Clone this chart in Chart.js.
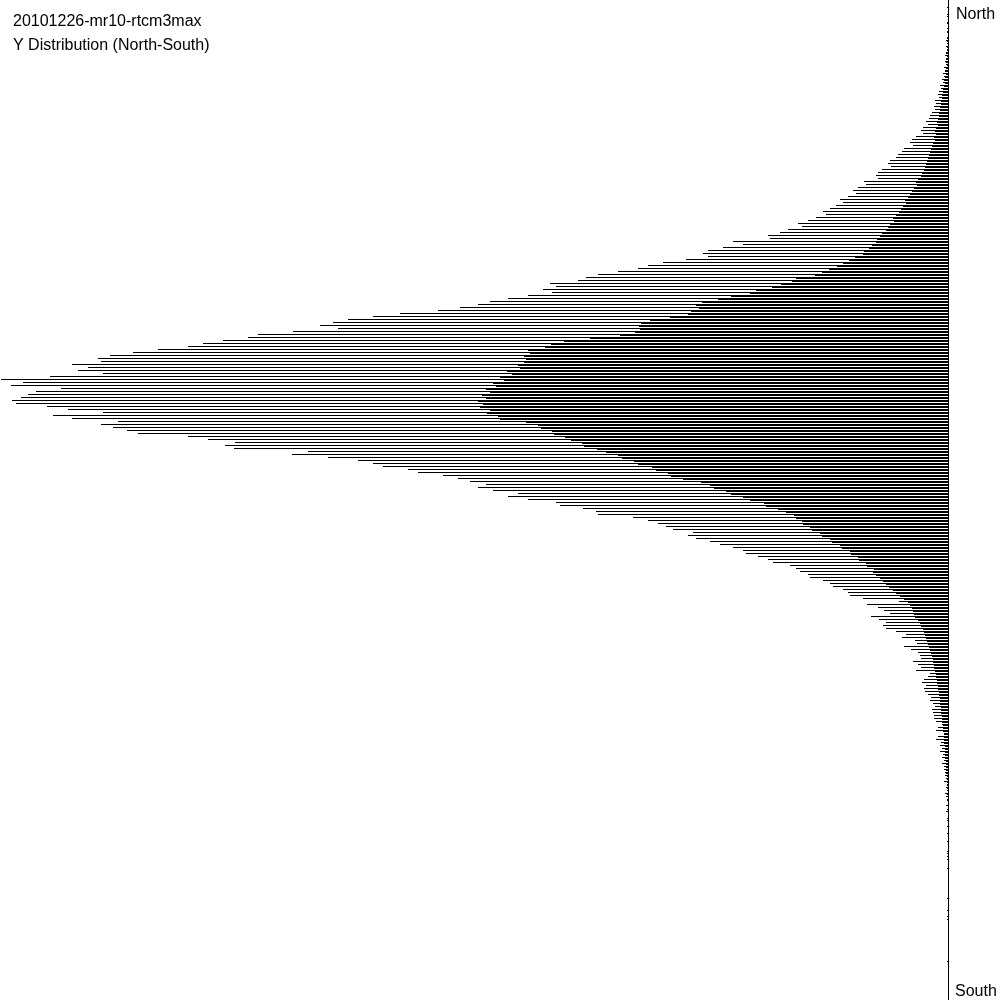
<!DOCTYPE html>
<html>
<head>
<meta charset="utf-8">
<script src="https://cdn.jsdelivr.net/npm/chart.js@4"></script>
<style>
  html, body { margin: 0; padding: 0; background: #fff; overflow: hidden; }
  canvas { display: block; }
</style>
</head>
<body>
<canvas id="distChart" width="1000" height="1000"></canvas>
<script>
// 文本
const chartTitle = '20101226-mr10-rtcm3max';
const chartSubtitle = 'Y Distribution (North-South)';
const northLabel = 'North';
const southLabel = 'South';

// 直方图：每格的第一行 (north -> south)
const upperRows = [
    0, 0, 1, 0, 0, 1, 0, 1, 0, 1,
    1, 0, 1, 2, 1, 2, 1, 2, 3, 2,
    3, 2, 4, 3, 5, 4, 6, 5, 8, 7,
    9, 10, 9, 13, 12, 14, 13, 16, 18, 19,
    22, 20, 25, 27, 25, 32, 36, 38, 35, 44,
    46, 50, 52, 58, 60, 57, 66, 70, 72, 70,
    84, 82, 90, 95, 92, 100, 108, 105, 112, 118,
    125, 122, 132, 140, 150, 146, 160, 168, 180, 178,
    215, 205, 225, 240, 245, 240, 262, 285, 300, 310,
    330, 350, 362, 370, 398, 392, 405, 396, 420, 440,
    458, 470, 488, 510, 548, 575, 600, 615, 628, 610,
    655, 690, 700, 725, 745, 760, 790, 815, 838, 850,
    847, 876, 860, 870, 845, 898, 947, 925, 937, 887,
    912, 920, 927, 936, 932, 901, 880, 845, 895, 876,
    830, 847, 835, 821, 810, 760, 740, 713, 723, 714,
    640, 656, 620, 590, 575, 565, 540, 530, 505, 490,
    478, 462, 470, 455, 430, 440, 420, 392, 388, 365,
    352, 350, 315, 300, 290, 282, 275, 255, 260, 252,
    238, 228, 215, 205, 202, 190, 180, 175, 158, 152,
    148, 140, 138, 125, 118, 115, 105, 100, 98, 85,
    49, 81, 70, 64, 58, 77, 69, 62, 65, 62,
    52, 42, 46, 33, 31, 44, 37, 30, 28, 27,
    35, 30, 27, 32, 18, 20, 24, 26, 22, 24,
    23, 20, 17, 18, 15, 13, 16, 15, 14, 14,
    12, 6, 10, 12, 4, 10, 12, 7, 8, 6,
    8, 5, 6, 4, 6, 4, 4, 3, 3, 2,
    4, 1, 2, 1, 3, 2, 1, 0, 2, 0,
    2, 0, 0, 1, 0, 1, 0, 0, 0, 0,
    1, 0, 0, 0, 1, 1, 1, 0, 0, 1,
    0, 0, 0, 0, 0, 0, 0, 0, 0, 1,
    0, 0, 0, 1, 0, 1, 1, 0, 0, 0,
    0, 0, 0, 0, 0, 0, 0, 0, 0, 0,
    1, 0, 0, 0, 0, 0, 0, 0, 0, 0, 0, 0, 0
];

// 直方图：每格的第二行
const lowerRows = [
    0, 0, 0, 0, 1, 0, 0, 1, 0, 0,
    1, 0, 1, 1, 0, 1, 1, 2, 1, 2,
    2, 1, 2, 3, 2, 3, 4, 3, 4, 5,
    5, 6, 6, 7, 7, 8, 8, 9, 9, 10,
    11, 10, 12, 13, 12, 14, 13, 15, 16, 17,
    18, 19, 20, 21, 22, 23, 24, 26, 27, 30,
    32, 31, 34, 36, 38, 40, 43, 42, 45, 47,
    49, 52, 55, 54, 58, 60, 62, 66, 68, 71,
    72, 76, 79, 84, 85, 93, 99, 105, 111, 119,
    126, 133, 152, 156, 167, 176, 192, 198, 217, 230,
    246, 252, 249, 257, 260, 278, 298, 307, 309, 308,
    313, 328, 358, 384, 397, 403, 420, 418, 424, 422,
    424, 430, 428, 441, 436, 448, 444, 455, 452, 462,
    458, 466, 462, 470, 465, 468, 458, 461, 450, 448,
    422, 410, 407, 396, 394, 383, 377, 366, 364, 351,
    342, 330, 326, 314, 310, 296, 292, 280, 277, 265,
    247, 238, 234, 222, 217, 205, 198, 184, 182, 170,
    162, 154, 152, 146, 145, 138, 136, 128, 126, 118,
    116, 108, 106, 98, 97, 90, 89, 82, 81, 74,
    75, 72, 68, 65, 62, 59, 55, 52, 48, 44,
    40, 38, 36, 35, 34, 33, 30, 28, 27, 25,
    24, 23, 22, 21, 20, 19, 18, 17, 16, 15,
    15, 14, 14, 13, 12, 12, 11, 11, 10, 10,
    9, 9, 8, 8, 8, 7, 7, 7, 6, 6,
    6, 5, 5, 5, 4, 4, 4, 4, 3, 3,
    3, 3, 3, 2, 2, 2, 2, 2, 1, 1,
    1, 1, 1, 0, 1, 0, 1, 0, 0, 1,
    0, 0, 1, 0, 0, 0, 0, 1, 0, 0,
    0, 0, 0, 1, 0, 0, 0, 0, 0, 0,
    0, 0, 0, 0, 0, 0, 0, 0, 0, 0,
    0, 0, 0, 0, 0, 0, 0, 0, 0, 0,
    0, 0, 0, 0, 0, 0, 0, 0, 0, 0,
    0, 0, 0, 0, 0, 0, 0, 0, 0, 0, 0, 0, 0
];

const countMax = 948;
const binLabels = upperRows.map((_, i) => String(i));

// 文本插件
const textPlugin = {
    id: 'textPlugin',
    afterDraw(chart) {
        const c = chart.ctx;
        c.save();
        c.fillStyle = '#000';
        c.font = '16px "Liberation Sans", Arial, sans-serif';
        c.textBaseline = 'alphabetic';
        c.textAlign = 'left';
        c.fillText(chartTitle, 13, 26);
        c.fillText(chartSubtitle, 13, 50);
        c.fillText(northLabel, 956, 19);
        c.fillText(southLabel, 955, 996);
        c.restore();
    }
};

const rowStyle = {
    backgroundColor: '#000',
    borderWidth: 0,
    barThickness: 1,
    inflateAmount: 0
};

const ctx = document.getElementById('distChart').getContext('2d');
new Chart(ctx, {
    type: 'bar',
    data: {
        labels: binLabels,
        datasets: [
            { label: 'upper', data: upperRows, ...rowStyle },
            { label: 'lower', data: lowerRows, ...rowStyle }
        ]
    },
    options: {
        indexAxis: 'y',
        responsive: false,
        animation: false,
        layout: {
            padding: { top: 0.5, bottom: 0.5, left: 0, right: 0 }
        },
        plugins: {
            legend: { display: false },
            tooltip: { enabled: false }
        },
        scales: {
            x: {
                display: false,
                reverse: true,
                min: 0,
                max: countMax
            },
            y: {
                position: 'right',
                grid: { display: false },
                border: { display: true, color: '#000', width: 1 },
                ticks: { display: false },
                afterFit(scale) {
                    scale.width = 52;
                }
            }
        }
    },
    plugins: [textPlugin]
});
</script>
</body>
</html>
